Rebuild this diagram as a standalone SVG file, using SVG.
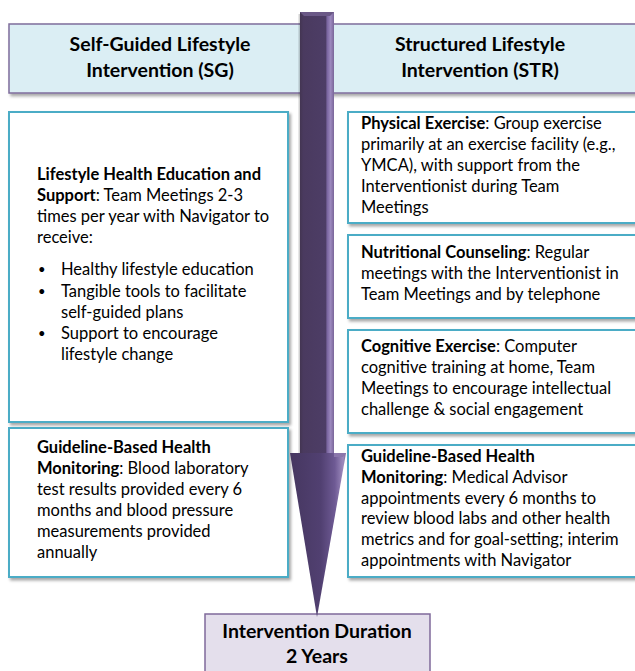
<svg xmlns="http://www.w3.org/2000/svg" width="635" height="671" viewBox="0 0 635 671">
  <style>
    text { font-family: Lato, "Liberation Sans", sans-serif; fill: #000; }
    .hd { font-size: 19.5px; font-weight: bold; text-anchor: middle; }
    .bx { font-size: 16.5px; }
    .dot { font-size: 13px; }
    .b { font-weight: bold; }
    .card { fill: #fff; stroke: #4bacc6; stroke-width: 2; filter: url(#shadow); }
    .band { fill: #dbeef4; stroke: #7f6d9c; stroke-width: 1.5; filter: url(#shadow); }
    .dur { fill: #e4dfec; stroke: #7f6a9a; stroke-width: 1.5; }
  </style>
  <defs>
    <filter id="shadow" x="-5%" y="-5%" width="115%" height="120%">
      <feDropShadow dx="2" dy="2.5" stdDeviation="1.5" flood-color="#000" flood-opacity="0.35"/>
    </filter>
    <linearGradient id="shaftFill" x1="300" y1="0" x2="334" y2="0" gradientUnits="userSpaceOnUse">
      <stop offset="0" stop-color="#433552"/>
      <stop offset="0.1" stop-color="#4a3a5f"/>
      <stop offset="0.75" stop-color="#4d3d66"/>
      <stop offset="0.8" stop-color="#7a65a0"/>
      <stop offset="0.9" stop-color="#9c89be"/>
      <stop offset="1" stop-color="#7a6699"/>
    </linearGradient>
    <linearGradient id="headFill" x1="290" y1="0" x2="346" y2="0" gradientUnits="userSpaceOnUse">
      <stop offset="0" stop-color="#463760"/>
      <stop offset="0.55" stop-color="#514071"/>
      <stop offset="0.8" stop-color="#6e5a94"/>
      <stop offset="0.95" stop-color="#9d8abd"/>
      <stop offset="1" stop-color="#7b6799"/>
    </linearGradient>
  </defs>

  <!-- header band with both arm titles -->
  <g id="header">
    <rect class="band" x="9" y="24" width="640" height="69"/>
    <text class="hd" x="160" y="51">Self-Guided Lifestyle</text>
    <text class="hd" x="160" y="77">Intervention (SG)</text>
    <text class="hd" x="480" y="51">Structured Lifestyle</text>
    <text class="hd" x="480" y="77">Intervention (STR)</text>
  </g>

  <!-- SG arm -->
  <g id="sg-education">
    <rect class="card" x="9" y="112" width="279" height="310"/>
    <text class="bx" x="37" y="180"><tspan class="b">Lifestyle Health Education and</tspan></text>
    <text class="bx" x="37" y="201"><tspan class="b">Support</tspan>: Team Meetings 2-3</text>
    <text class="bx" x="37" y="222">times per year with Navigator to</text>
    <text class="bx" x="37" y="243">receive:</text>
    <text class="dot" x="38" y="274">•</text>
    <text class="bx" x="61" y="275">Healthy lifestyle education</text>
    <text class="dot" x="38" y="296">•</text>
    <text class="bx" x="61" y="297">Tangible tools to facilitate</text>
    <text class="bx" x="61" y="318">self-guided plans</text>
    <text class="dot" x="38" y="338">•</text>
    <text class="bx" x="61" y="339">Support to encourage</text>
    <text class="bx" x="61" y="360">lifestyle change</text>
  </g>

  <g id="sg-monitoring">
    <rect class="card" x="9" y="428" width="279" height="149"/>
    <text class="bx" x="37" y="453"><tspan class="b">Guideline-Based Health</tspan></text>
    <text class="bx" x="37" y="474"><tspan class="b">Monitoring</tspan>: Blood laboratory</text>
    <text class="bx" x="37" y="495">test results provided every 6</text>
    <text class="bx" x="37" y="516">months and blood pressure</text>
    <text class="bx" x="37" y="537">measurements provided</text>
    <text class="bx" x="37" y="558">annually</text>
  </g>

  <!-- STR arm -->
  <g id="str-exercise">
    <rect class="card" x="348" y="112" width="300" height="111"/>
    <text class="bx" x="361" y="129"><tspan class="b">Physical Exercise</tspan>: Group exercise</text>
    <text class="bx" x="361" y="150">primarily at an exercise facility (e.g.,</text>
    <text class="bx" x="361" y="171">YMCA), with support from the</text>
    <text class="bx" x="361" y="192">Interventionist during Team</text>
    <text class="bx" x="361" y="213">Meetings</text>
  </g>

  <g id="str-nutrition">
    <rect class="card" x="348" y="235" width="300" height="83"/>
    <text class="bx" x="361" y="258"><tspan class="b">Nutritional Counseling</tspan>: Regular</text>
    <text class="bx" x="361" y="279">meetings with the Interventionist in</text>
    <text class="bx" x="361" y="300">Team Meetings and by telephone</text>
  </g>

  <g id="str-cognitive">
    <rect class="card" x="348" y="330" width="300" height="103"/>
    <text class="bx" x="361" y="352"><tspan class="b">Cognitive Exercise</tspan>: Computer</text>
    <text class="bx" x="361" y="373">cognitive training at home, Team</text>
    <text class="bx" x="361" y="394">Meetings to encourage intellectual</text>
    <text class="bx" x="361" y="415">challenge &amp; social engagement</text>
  </g>

  <g id="str-monitoring">
    <rect class="card" x="348" y="445" width="300" height="132"/>
    <text class="bx" x="361" y="462"><tspan class="b">Guideline-Based Health</tspan></text>
    <text class="bx" x="361" y="483"><tspan class="b">Monitoring</tspan>: Medical Advisor</text>
    <text class="bx" x="361" y="504">appointments every 6 months to</text>
    <text class="bx" x="361" y="524">review blood labs and other health</text>
    <text class="bx" x="361" y="545">metrics and for goal-setting; interim</text>
    <text class="bx" x="361" y="566">appointments with Navigator</text>
  </g>

  <!-- duration box -->
  <g id="duration">
    <rect class="dur" x="205" y="614" width="225" height="70"/>
    <text class="hd" x="317" y="638">Intervention Duration</text>
    <text class="hd" x="317" y="663">2 Years</text>
  </g>

  <!-- timeline arrow running through the whole programme -->
  <g id="connectors">
    <rect x="298.5" y="14" width="2" height="440" fill="#000" opacity="0.18"/>
    <rect x="300" y="12" width="34" height="442" fill="url(#shaftFill)"/>
    <polygon points="300,12 334,12 330,16 304,16" fill="#6a5886"/>
    <polygon points="290,453 346,453 317,617" fill="url(#headFill)"/>
    <polygon points="334,453 346,453 343,457 334,457" fill="#8b77ac"/>
  </g>
</svg>
